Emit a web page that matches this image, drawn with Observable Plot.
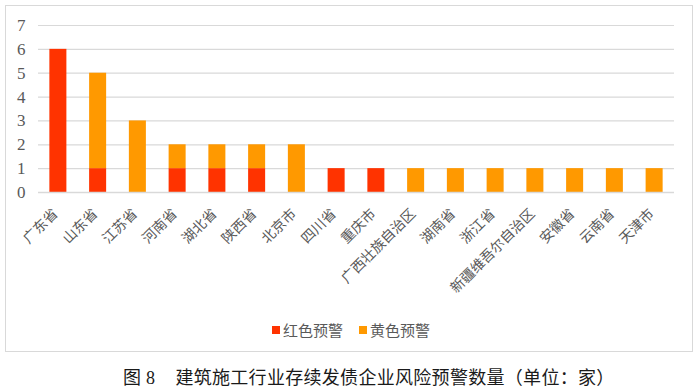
<!DOCTYPE html>
<html><head><meta charset="utf-8">
<script src="https://cdn.jsdelivr.net/npm/d3@7"></script>
<script src="https://cdn.jsdelivr.net/npm/@observablehq/plot@0.6"></script>
<style>
body{margin:0;background:#fff;width:700px;height:391px;position:relative;overflow:hidden;font-family:"Liberation Serif","Noto Sans CJK SC",serif;}
#frame{position:absolute;left:5px;top:5px;width:686px;height:345px;border:1.5px solid #d9d9d9;}
#chart{position:absolute;left:0;top:0;width:700px;height:352px;}
#legend{position:absolute;top:321px;left:272px;height:18px;display:flex;align-items:center;font-size:15px;line-height:18px;color:#595959;font-family:"Noto Sans CJK SC",sans-serif;white-space:nowrap;}
#legend .sw{display:inline-block;width:8px;height:8px;margin-right:3px;}
#legend .it{display:flex;align-items:center;margin-right:16px;}
#caption{position:absolute;top:367px;left:123px;line-height:22px;font-size:18px;letter-spacing:0.3px;color:#1a1a1a;white-space:nowrap;font-family:"Liberation Serif","Noto Sans CJK SC",serif;}
</style></head><body>
<div id="frame"></div>
<div id="chart"></div>
<div id="legend"></div>
<div id="caption">图 8<span style="display:inline-block;width:20px"></span>建筑施工行业存续发债企业风险预警数量（单位：家）</div>
<script>
const provinces = ["广东省","山东省","江苏省","河南省","湖北省","陕西省","北京市","四川省","重庆市","广西壮族自治区","湖南省","浙江省","新疆维吾尔自治区","安徽省","云南省","天津市"];
const redWarn =    [6,1,0,1,1,1,0,1,1,0,0,0,0,0,0,0];
const yellowWarn = [0,4,3,1,1,1,2,0,0,1,1,1,1,1,1,1];
const seriesNames = ["红色预警","黄色预警"];
const seriesColors = ["#FF3300","#FF9900"];
const yTicks = [0,1,2,3,4,5,6,7];

const data = [];
provinces.forEach((p,i)=>{
  data.push({prov:p, type:seriesNames[0], value:redWarn[i]});
  data.push({prov:p, type:seriesNames[1], value:yellowWarn[i]});
});

const chart = Plot.plot({
  width:700, height:352,
  marginLeft:38, marginRight:26, marginTop:25, marginBottom:160,
  style:'font-family:"Liberation Serif","Noto Sans CJK SC",serif; color:#595959; background:transparent; overflow:visible;',
  x:{domain:provinces, paddingInner:0.572, paddingOuter:0.286, round:false, label:null},
  y:{domain:[0,7], label:null},
  color:{domain:seriesNames, range:seriesColors},
  marks:[
    Plot.gridY(yTicks,{stroke:"#d9d9d9", strokeOpacity:1, strokeWidth:1.2}),
    Plot.barY(data,{x:"prov", y:"value", fill:"type"}),
    Plot.ruleY([0],{stroke:"#d9d9d9", strokeWidth:1.5}),
    Plot.axisY(yTicks,{tickSize:0, tickPadding:13, fontSize:17, fill:"#595959", label:null}),
    Plot.axisX({tickSize:0, tickRotate:-45, tickPadding:6, dx:-3, dy:13, fontSize:14, fill:"#595959", label:null})
  ]
});
document.getElementById("chart").appendChild(chart);

const lg = document.getElementById("legend");
seriesNames.forEach((n,i)=>{
  const s = document.createElement("span"); s.className="it";
  s.innerHTML = `<span class="sw" style="background:${seriesColors[i]}"></span>${n}`;
  lg.appendChild(s);
});
</script>
</body></html>
